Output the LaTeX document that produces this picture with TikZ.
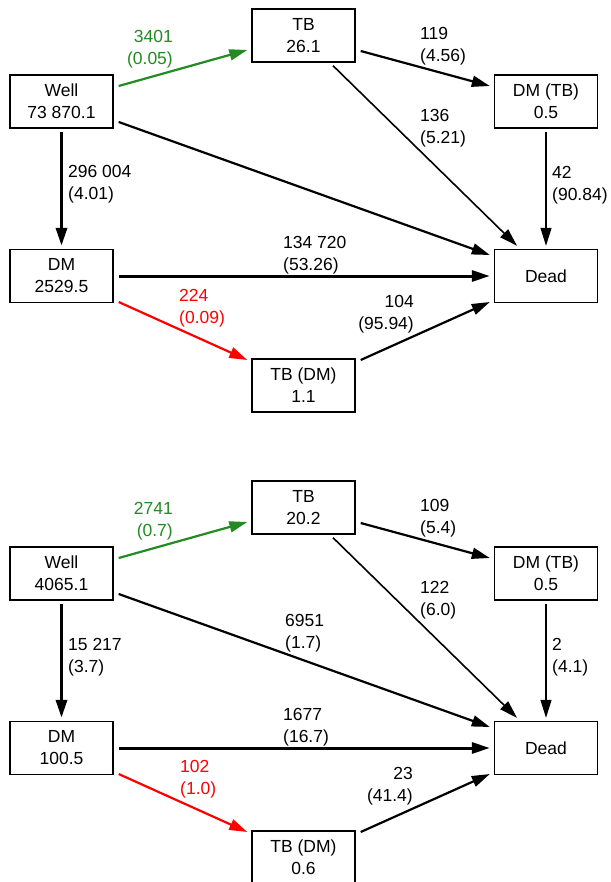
\documentclass[tikz,border=0pt]{standalone}
\usepackage{fontspec}
\setmainfont{Liberation Sans}
\usetikzlibrary{arrows.meta,calc}
\definecolor{grn}{RGB}{34,139,34}
\definecolor{rd}{RGB}{255,0,0}
\begin{document}
\begin{tikzpicture}[x=1pt,y=-1pt,
  box/.style={draw,line width=1.4pt,minimum width=103pt,minimum height=53pt,inner sep=0pt,align=center,font=\fontsize{17.5}{22}\selectfont},
  lab/.style={inner sep=0pt,font=\fontsize{17.5}{22}\selectfont},
  labl/.style={lab,align=left,anchor=west},
  labr/.style={lab,align=right,anchor=east},
  arr/.style={-{Triangle[length=18pt,width=11pt]}},
  wa/.style={line width=3.3pt},
  wb/.style={line width=3pt},
  wc/.style={line width=2.2pt},
  wd/.style={line width=1.6pt},
  we/.style={line width=1.3pt}
]
\useasboundingbox[fill=white] (0,0) rectangle (610,882);

% ---------- top panel ----------
\node[box] (w1) at (61.5,101.5) {Well\\73 870.1};
\node[box] (tb1) at (303.5,35.5) {TB\\26.1};
\node[box] (dt1) at (546,101.5) {DM (TB)\\0.5};
\node[box] (dm1) at (61.5,276) {DM\\2529.5};
\node[box] (de1) at (546,276) {Dead};
\node[box] (td1) at (303.5,385.5) {TB (DM)\\1.1};

\draw[arr,wc,grn] ($(w1.east)+(5,-15.5)$) -- ($(tb1.west)+(-4,14.5)$);
\draw[arr,wc] ($(w1.east)+(5,20.5)$) -- ($(de1.west)+(-4,-21)$);
\draw[arr,wc] ($(tb1.east)+(5,15.5)$) -- ($(dt1.west)+(-4,-15.5)$);
\draw[arr,wd] ($(tb1.south)+(29.5,3)$) -- ($(de1.north)+(-29,-3)$);
\draw[arr,we] ($(dt1.south)+(0,3)$) -- ($(de1.north)+(0,-3)$);
\draw[arr,wa] ($(w1.south)+(0,3)$) -- ($(dm1.north)+(0,-3)$);
\draw[arr,wb] ($(dm1.east)+(5,0)$) -- ($(de1.west)+(-4,0)$);
\draw[arr,wc,rd] ($(dm1.east)+(5,26)$) -- ($(td1.west)+(-4,-25.5)$);
\draw[arr,wc] ($(td1.east)+(5,-25.5)$) -- ($(de1.west)+(-4,26)$);

\node[labr,text=grn] (l1) at (173,49) {3401\\(0.05)};
\node[labl] (l2) at (68,184) {296 004\\(4.01)};
\node[labl] (l3) at (420,46) {119\\(4.56)};
\node[labl] (l4) at (420,128) {136\\(5.21)};
\node[labl] (l5) at (552,185) {42\\(90.84)};
\node[labl] (l6) at (283,255) {134 720\\(53.26)};
\node[labl,text=rd] (l7) at (179,308) {224\\(0.09)};
\node[labr] (l8) at (414,314) {104\\(95.94)};

% ---------- bottom panel ----------
\node[box] (w2) at (61.5,573.5) {Well\\4065.1};
\node[box] (tb2) at (303.5,507.5) {TB\\20.2};
\node[box] (dt2) at (546,573.5) {DM (TB)\\0.5};
\node[box] (dm2) at (61.5,748) {DM\\100.5};
\node[box] (de2) at (546,748) {Dead};
\node[box] (td2) at (303.5,857.5) {TB (DM)\\0.6};

\draw[arr,wc,grn] ($(w2.east)+(5,-15.5)$) -- ($(tb2.west)+(-4,14.5)$);
\draw[arr,wc] ($(w2.east)+(5,20.5)$) -- ($(de2.west)+(-4,-21)$);
\draw[arr,wc] ($(tb2.east)+(5,15.5)$) -- ($(dt2.west)+(-4,-15.5)$);
\draw[arr,wd] ($(tb2.south)+(29.5,3)$) -- ($(de2.north)+(-29,-3)$);
\draw[arr,we] ($(dt2.south)+(0,3)$) -- ($(de2.north)+(0,-3)$);
\draw[arr,wa] ($(w2.south)+(0,3)$) -- ($(dm2.north)+(0,-3)$);
\draw[arr,wb] ($(dm2.east)+(5,0)$) -- ($(de2.west)+(-4,0)$);
\draw[arr,wc,rd] ($(dm2.east)+(5,26)$) -- ($(td2.west)+(-4,-25.5)$);
\draw[arr,wc] ($(td2.east)+(5,-25.5)$) -- ($(de2.west)+(-4,26)$);

\node[labr,text=grn] (m1) at (173,521) {2741\\(0.7)};
\node[labl] (m2) at (68,657) {15 217\\(3.7)};
\node[labl] (m3) at (420,518) {109\\(5.4)};
\node[labl] (m4) at (420,600) {122\\(6.0)};
\node[labl] (m5) at (285,633) {6951\\(1.7)};
\node[labl] (m6) at (552,657) {2\\(4.1)};
\node[labl] (m7) at (283,727) {1677\\(16.7)};
\node[labl,text=rd] (m8) at (180,779) {102\\(1.0)};
\node[labr] (m9) at (413,786) {23\\(41.4)};
\end{tikzpicture}
\end{document}
